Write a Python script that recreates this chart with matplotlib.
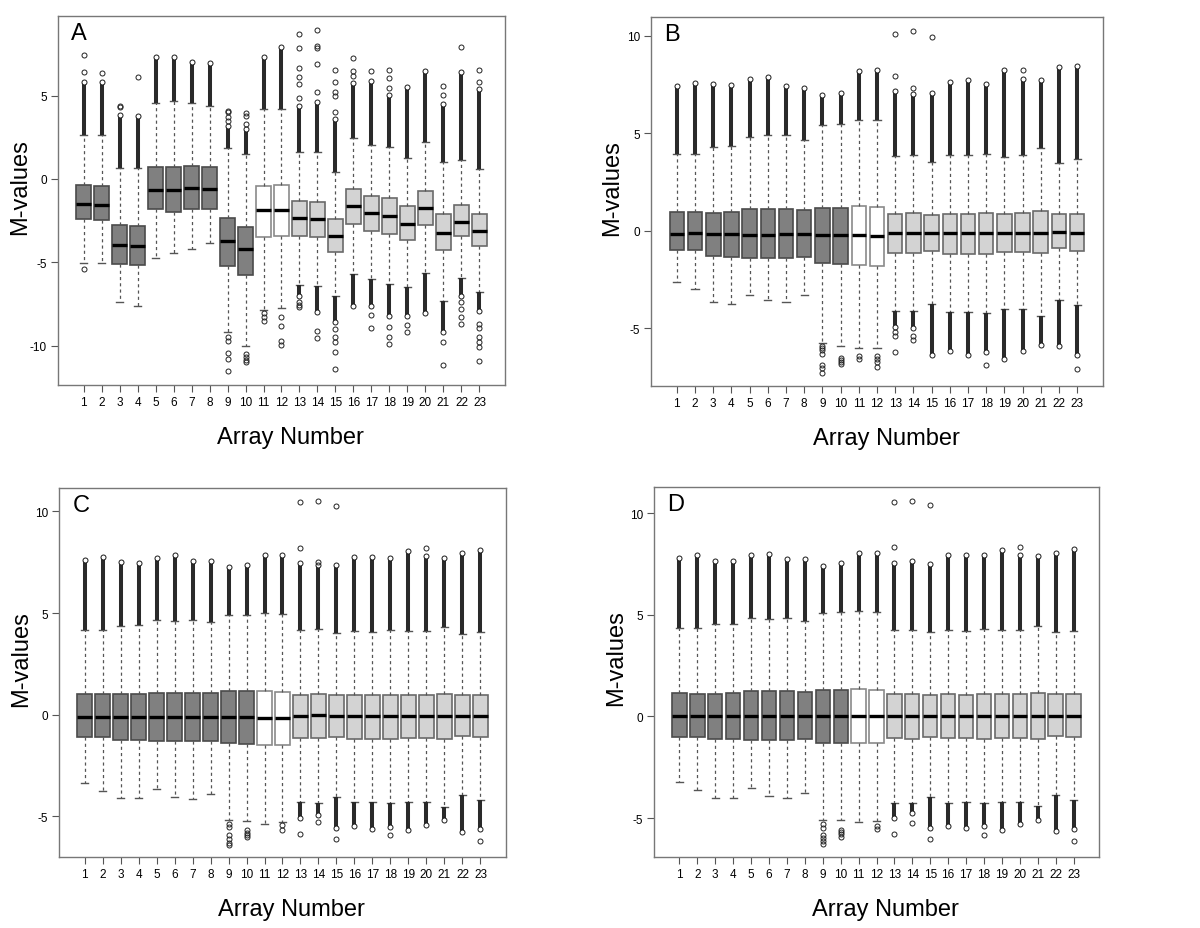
"""
M-value boxplots for 23 arrays, four normalisation panels (A-D)
"""

import numpy as np
import matplotlib
matplotlib.use("Agg")
import matplotlib.pyplot as plt

plt.rcParams["font.family"] = ["Liberation Sans", "DejaVu Sans"]

nan = np.nan
ARRAYS = list(range(1, 24))
TICK_LABELS = [str(i) for i in ARRAYS]
GROUP = ["dark"] * 10 + ["white"] * 2 + ["light"] * 11

# ---- panel A ----
A_Q3 = [-0.34, -0.44, -2.77, -2.81, 0.72, 0.70, 0.76, 0.70, -2.36, -2.85, -0.40, -0.36,
        -1.32, -1.38, -2.42, -0.62, -1.04, -1.16, -1.64, -0.72, -2.12, -1.58, -2.12]
A_MED = [-1.48, -1.58, -3.95, -4.01, -0.64, -0.68, -0.56, -0.62, -3.73, -4.21, -1.88, -1.84,
         -2.36, -2.40, -3.41, -1.64, -2.06, -2.20, -2.67, -1.76, -3.25, -2.59, -3.09]
A_Q1 = [-2.38, -2.48, -5.09, -5.15, -1.82, -1.96, -1.82, -1.78, -5.19, -5.73, -3.45, -3.43,
        -3.39, -3.45, -4.35, -2.67, -3.09, -3.27, -3.63, -2.75, -4.23, -3.39, -3.99]
A_WHI = [2.64, 2.64, 0.68, 0.68, 4.54, 4.66, 4.58, 4.40, 1.84, 1.52, 4.20, 4.20,
         1.64, 1.64, 0.40, 2.44, 2.04, 1.92, 1.28, 2.20, 1.04, 1.16, 0.60]
A_WLO = [-5.04, -5.04, -7.36, -7.60, -4.76, -4.44, -4.20, -3.86, -9.20, -10.0, -7.84, -7.76,
         -6.36, -6.42, -7.02, -5.70, -6.00, -6.30, -6.50, -5.64, -7.30, -5.94, -6.76]
A_TOP = [5.84, 5.80, 3.84, 3.76, 7.34, 7.30, 7.00, 6.94, 3.20, 3.00, 7.34, 7.90,
         4.40, 4.60, 3.60, 5.76, 5.90, 5.04, 5.50, 6.46, 4.50, 6.44, 5.40]
A_BOT = [nan] * 12 + [-7.00, -7.98, -8.60, -7.60, -7.60, -8.20, -8.20, -8.04, -9.20, -7.00, -7.90]
A_EXTRA = {
    1: [6.40, 7.46, -5.40], 2: [6.36], 3: [4.34, 4.40], 4: [6.14],
    9: [3.50, 3.70, 4.00, 4.10, -9.50, -9.70, -10.46, -10.80, -11.50],
    10: [3.30, 3.80, 3.96, -10.50, -10.70, -10.85, -11.00],
    11: [-8.04, -8.30, -8.54], 12: [-8.30, -8.84, -9.70, -9.96],
    13: [4.84, 5.70, 6.10, 6.64, 7.86, 8.70, -7.40, -7.55, -7.70],
    14: [5.20, 6.90, 7.84, 8.00, 8.96, -9.10, -9.54],
    15: [4.04, 4.96, 5.20, 5.84, 6.56, -9.00, -9.50, -9.77, -10.35, -11.37],
    16: [6.20, 6.50, 7.24], 17: [6.50, -8.16, -8.94],
    18: [5.46, 6.04, 6.56, -8.90, -9.50, -9.90], 19: [-8.76, -9.16],
    21: [5.04, 5.56, -9.80, -11.16], 22: [7.94, -7.40, -7.80, -8.30, -8.70],
    23: [5.84, 6.54, -8.70, -8.96, -9.50, -9.77, -10.10, -10.90],
}

# ---- panel B ----
B_Q3 = [0.97, 0.99, 0.94, 0.97, 1.13, 1.15, 1.13, 1.08, 1.16, 1.16, 1.26, 1.21,
        0.87, 0.91, 0.82, 0.87, 0.87, 0.91, 0.87, 0.91, 1.03, 0.87, 0.87]
B_MED = [-0.14, -0.12, -0.17, -0.17, -0.19, -0.19, -0.17, -0.17, -0.19, -0.19, -0.20, -0.24,
         -0.12, -0.10, -0.09, -0.12, -0.12, -0.12, -0.12, -0.12, -0.12, -0.07, -0.10]
B_Q1 = [-0.99, -0.97, -1.30, -1.33, -1.37, -1.38, -1.38, -1.33, -1.66, -1.71, -1.74, -1.79,
        -1.13, -1.13, -1.03, -1.20, -1.16, -1.20, -1.08, -1.08, -1.13, -0.87, -1.04]
B_WHI = [3.93, 3.93, 4.32, 4.36, 4.82, 4.94, 4.90, 4.67, 5.45, 5.47, 5.68, 5.68,
         3.83, 3.88, 3.56, 3.88, 3.91, 3.97, 3.79, 3.91, 4.26, 3.50, 3.68]
B_WLO = [-2.63, -2.97, -3.64, -3.76, -3.26, -3.52, -3.64, -3.26, -5.73, -5.91, -6.02, -5.98,
         -4.10, -4.10, -3.73, -4.15, -4.15, -4.20, -4.02, -4.02, -4.38, -3.52, -3.81]
B_TOP = [7.44, 7.59, 7.54, 7.50, 7.78, 7.90, 7.42, 7.33, 6.96, 7.08, 8.19, 8.24,
         7.18, 7.04, 7.08, 7.64, 7.73, 7.56, 8.27, 7.81, 7.73, 8.41, 8.46]
B_BOT = [nan] * 12 + [-4.92, -5.00, -6.34, -6.17, -6.34, -6.20, -6.55, -6.17, -5.86, -5.91, -6.38]
B_EXTRA = {
    9: [-5.90, -6.00, -6.10, -6.30, -6.85, -7.05, -7.28],
    10: [-6.50, -6.60, -6.70, -6.80], 11: [-6.40, -6.55],
    12: [-6.40, -6.55, -6.70, -6.97],
    13: [7.93, 10.09, -5.20, -5.40, -6.20], 14: [7.33, 10.26, -5.40, -5.60],
    15: [9.95], 18: [-6.85], 20: [8.24], 23: [-7.06],
}

# ---- panel C ----
C_Q3 = [1.03, 1.03, 1.02, 1.02, 1.08, 1.08, 1.08, 1.08, 1.15, 1.15, 1.15, 1.11,
        0.98, 1.00, 0.95, 0.95, 0.95, 0.95, 0.98, 0.95, 1.02, 0.95, 0.95]
C_MED = [-0.10, -0.10, -0.10, -0.10, -0.10, -0.10, -0.10, -0.10, -0.10, -0.10, -0.15, -0.15,
         -0.05, -0.03, -0.05, -0.08, -0.08, -0.08, -0.08, -0.08, -0.08, -0.08, -0.08]
C_Q1 = [-1.11, -1.11, -1.25, -1.25, -1.30, -1.31, -1.31, -1.30, -1.39, -1.43, -1.48, -1.48,
        -1.15, -1.15, -1.10, -1.18, -1.18, -1.18, -1.15, -1.15, -1.21, -1.05, -1.10]
C_WHI = [4.15, 4.15, 4.36, 4.39, 4.64, 4.59, 4.64, 4.56, 4.89, 4.92, 5.02, 4.93,
         4.15, 4.20, 4.02, 4.11, 4.07, 4.18, 4.10, 4.11, 4.31, 3.98, 4.07]
C_WLO = [-3.34, -3.74, -4.10, -4.10, -3.66, -4.05, -4.15, -3.89, -5.20, -5.23, -5.36, -5.28,
         -4.30, -4.34, -4.05, -4.30, -4.30, -4.34, -4.30, -4.30, -4.54, -3.97, -4.18]
C_TOP = [7.62, 7.75, 7.51, 7.46, 7.72, 7.84, 7.56, 7.54, 7.26, 7.38, 7.84, 7.87,
         7.46, 7.34, 7.34, 7.75, 7.75, 7.72, 8.05, 7.80, 7.70, 7.97, 8.11]
C_BOT = [nan] * 12 + [-5.10, -4.95, -5.57, -5.48, -5.61, -5.52, -5.69, -5.41, -5.20, -5.77, -5.61]
C_EXTRA = {
    9: [-5.40, -5.50, -5.93, -6.10, -6.30, -6.43], 10: [-5.66, -5.80, -5.90, -6.02],
    12: [-5.44, -5.66],
    13: [8.20, 10.46, -5.85], 14: [7.50, 10.50, -5.28], 15: [10.26, -6.13],
    18: [-5.93], 20: [8.20], 23: [-6.20],
}

# ---- panel D ----
D_Q3 = [1.15, 1.13, 1.12, 1.15, 1.25, 1.25, 1.23, 1.22, 1.28, 1.28, 1.33, 1.30,
        1.09, 1.09, 1.05, 1.09, 1.07, 1.09, 1.10, 1.12, 1.17, 1.09, 1.09]
D_MED = [0.0] * 23
D_Q1 = [-0.99, -1.02, -1.12, -1.12, -1.15, -1.17, -1.17, -1.13, -1.30, -1.32, -1.33, -1.33,
        -1.05, -1.09, -0.99, -1.05, -1.05, -1.09, -1.05, -1.05, -1.09, -0.95, -1.00]
D_WHI = [4.34, 4.34, 4.54, 4.57, 4.84, 4.80, 4.84, 4.72, 5.08, 5.12, 5.21, 5.12,
         4.28, 4.28, 4.14, 4.28, 4.21, 4.29, 4.26, 4.28, 4.47, 4.14, 4.21]
D_WLO = [-3.22, -3.63, -4.00, -4.00, -3.52, -3.93, -4.00, -3.75, -5.08, -5.12, -5.21, -5.13,
         -4.24, -4.28, -3.96, -4.24, -4.21, -4.26, -4.19, -4.19, -4.41, -3.87, -4.10]
D_TOP = [7.80, 7.93, 7.68, 7.65, 7.93, 8.01, 7.76, 7.73, 7.40, 7.55, 8.04, 8.06,
         7.57, 7.65, 7.52, 7.93, 7.93, 7.93, 8.22, 7.96, 7.88, 8.06, 8.26]
D_BOT = [nan] * 12 + [-4.98, -4.77, -5.48, -5.39, -5.48, -5.39, -5.59, -5.31, -5.10, -5.64, -5.53]
D_EXTRA = {
    9: [-5.31, -5.50, -5.86, -6.00, -6.15, -6.30], 10: [-5.59, -5.70, -5.80, -5.94],
    12: [-5.40, -5.56],
    13: [8.34, 10.56, -5.80], 14: [10.62, -5.23], 15: [10.41, -6.05],
    18: [-5.86], 20: [8.34], 23: [-6.13],
}

PANELS = [
    ("A", A_Q1, A_MED, A_Q3, A_WLO, A_WHI, A_BOT, A_TOP, A_EXTRA),
    ("B", B_Q1, B_MED, B_Q3, B_WLO, B_WHI, B_BOT, B_TOP, B_EXTRA),
    ("C", C_Q1, C_MED, C_Q3, C_WLO, C_WHI, C_BOT, C_TOP, C_EXTRA),
    ("D", D_Q1, D_MED, D_Q3, D_WLO, D_WHI, D_BOT, D_TOP, D_EXTRA),
]

# axes rectangles in pixels: left, top, right, bottom
RECTS = {"A": (58, 17, 505, 386), "B": (651, 18, 1103, 387),
         "C": (59, 489, 506, 858), "D": (654, 488, 1099, 858)}
YLIMS = {"A": (-12.36, 9.78), "B": (-7.95, 10.97), "C": (-7.0, 11.15), "D": (-6.92, 11.3)}
YTICKS = {"A": [-10, -5, 0, 5], "B": [-5, 0, 5, 10], "C": [-5, 0, 5, 10], "D": [-5, 0, 5, 10]}

FACE = {"dark": "#808080", "white": "#ffffff", "light": "#d3d3d3"}
EDGE = {"dark": "#4a4a4a", "white": "#8a8a8a", "light": "#6a6a6a"}
W, H = 1200, 929


def draw_panel(ax, name, q1, med, q3, wlo, whi, bot, top, extra):
    stats = []
    for i in range(len(ARRAYS)):
        stats.append(dict(med=med[i], q1=q1[i], q3=q3[i],
                          whislo=wlo[i], whishi=whi[i], fliers=[]))
    bp = ax.bxp(stats, positions=ARRAYS, widths=0.8, capwidths=0.4,
                patch_artist=True, showfliers=False,
                whiskerprops=dict(color="#555555", lw=0.9, linestyle=(0, (2.5, 2.5))),
                capprops=dict(color="#555555", lw=1.0),
                medianprops=dict(color="black", lw=2.4, solid_capstyle="butt"))
    for patch, g in zip(bp["boxes"], GROUP):
        patch.set_facecolor(FACE[g])
        patch.set_edgecolor(EDGE[g])
        patch.set_linewidth(1.2)

    # dense runs of outliers shown as a dark column capped by circles
    x = np.array(ARRAYS, dtype=float)
    top = np.array(top)
    whi = np.array(whi)
    ax.vlines(x, whi, top, color="#2a2a2a", lw=2.9, zorder=3)
    ax.plot(x, top, "o", ms=3.6, mfc="white", mec="#1a1a1a", mew=0.7, zorder=4)
    bot = np.array(bot)
    wlo = np.array(wlo)
    has = ~np.isnan(bot)
    ax.vlines(x[has], bot[has], wlo[has], color="#2a2a2a", lw=2.9, zorder=3)
    ax.plot(x[has], bot[has], "o", ms=3.6, mfc="white", mec="#1a1a1a", mew=0.7, zorder=4)
    for k, vals in extra.items():
        ax.plot([k] * len(vals), vals, "o", ms=3.6, mfc="none", mec="#222222",
                mew=0.7, zorder=4)

    ax.set_xlim(-0.42, 24.42)
    ax.set_ylim(*YLIMS[name])
    ax.set_xticks(ARRAYS)
    ax.set_xticklabels(TICK_LABELS)
    ax.set_yticks(YTICKS[name])
    ax.set_yticklabels([str(t) for t in YTICKS[name]])
    ax.tick_params(direction="out", length=5, width=0.8, color="#555555",
                   labelsize=8.5, pad=3)
    for s in ax.spines.values():
        s.set_color("#777777")
        s.set_linewidth(1.0)
    ax.text(0.03, 0.955, name, transform=ax.transAxes, fontsize=17,
            ha="left", va="center")
    ax.text(0.52, -0.141, "Array Number", transform=ax.transAxes, fontsize=17,
            ha="center", va="center")
    ax.text(-0.085, 0.54, "M-values", transform=ax.transAxes, fontsize=17,
            ha="center", va="center", rotation=90)


def main():
    fig = plt.figure(figsize=(W / 100, H / 100), dpi=100)
    for name, q1, med, q3, wlo, whi, bot, top, extra in PANELS:
        l, t, r, b = RECTS[name]
        ax = fig.add_axes([l / W, 1 - b / H, (r - l) / W, (b - t) / H])
        draw_panel(ax, name, q1, med, q3, wlo, whi, bot, top, extra)
    fig.savefig("out.png", dpi=100)
    plt.close(fig)


if __name__ == "__main__":
    main()
